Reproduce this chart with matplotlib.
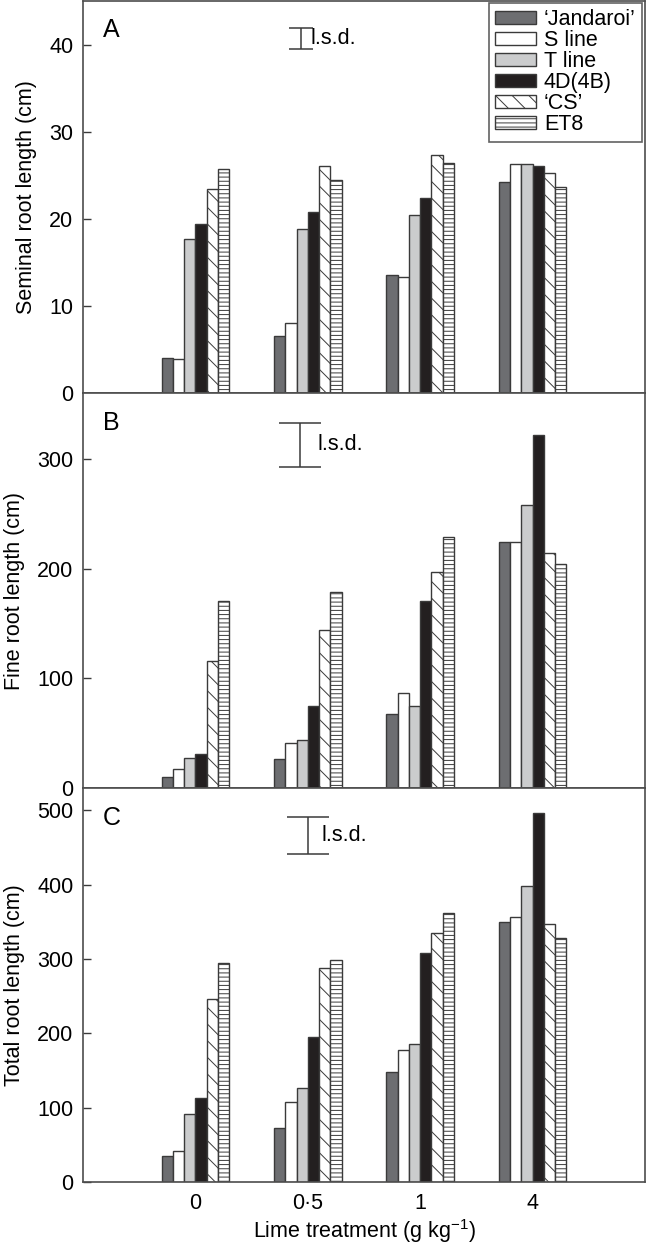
import matplotlib
matplotlib.use('Agg')
from matplotlib import pyplot as plt
from matplotlib.patches import Patch
import numpy as np

plt.rcParams['font.family'] = ['Liberation Sans', 'DejaVu Sans']
plt.rcParams['mathtext.fontset'] = 'custom'
plt.rcParams['mathtext.rm'] = 'Liberation Sans'
plt.rcParams['hatch.linewidth'] = 0.7

# lime treatments (g/kg) and lines
treatments = ['0', '0\u00b75', '1', '4']
lines = ['\u2018Jandaroi\u2019', 'S line', 'T line', '4D(4B)', '\u2018CS\u2019', 'ET8']

# seminal root length (cm), one list per line, over treatments
seminal = [
    [4.0, 6.5, 13.6, 24.2],
    [3.9, 8.0, 13.3, 26.3],
    [17.7, 18.8, 20.4, 26.3],
    [19.4, 20.8, 22.4, 26.1],
    [23.4, 26.1, 27.3, 25.2],
    [25.7, 24.4, 26.4, 23.6],
]
# fine root length (cm)
fine = [
    [10, 26, 67, 224],
    [17, 41, 87, 224],
    [27, 44, 75, 258],
    [31, 75, 170, 322],
    [116, 144, 197, 214],
    [170, 179, 229, 204],
]
# total root length (cm)
total = [
    [35, 73, 148, 350],
    [42, 108, 178, 356],
    [92, 127, 185, 398],
    [113, 195, 308, 496],
    [246, 288, 335, 347],
    [294, 299, 362, 328],
]
lsd = [2.4, 40, 50]

panels = [seminal, fine, total]
ylabels = ['Seminal root length (cm)', 'Fine root length (cm)', 'Total root length (cm)']
letters = ['A', 'B', 'C']
ylims = [45, 360, 530]
yticks = [np.arange(0, 41, 10), np.arange(0, 301, 100), np.arange(0, 501, 100)]

# lsd bar placement: x centre, y centre, cap size, text x
lsd_pos = [(0.94, 40.7, 8.5, 1.02), (0.93, 313, 15, 1.09), (1.0, 466, 15, 1.125)]

edge = '#3a3a3a'
fills = ['#6d6e71', 'white', '#cbcccd', '#231f20', 'white', 'white']
hatches = [None, None, None, None, '\\\\', '----']
fs = 15.5

W, H = 646, 1245
fig = plt.figure(figsize=(W / 100, H / 100), dpi=100)
tops = [1, 393, 788]
bots = [393, 788, 1182]
left, right = 83, 645

x = np.arange(len(treatments))
w = 0.1
axes = []
for k, data in enumerate(panels):
    ax = fig.add_axes([left / W, 1 - bots[k] / H, (right - left) / W, (bots[k] - tops[k]) / H])
    axes.append(ax)
    for i, vals in enumerate(data):
        ax.bar(x + (i - 2.5) * w, vals, w, color=fills[i], edgecolor=edge,
               hatch=hatches[i], linewidth=1.0, label=lines[i])
    ax.set_xlim(-1, 4)
    ax.set_ylim(0, ylims[k])
    ax.set_yticks(yticks[k])
    ax.tick_params(axis='y', direction='in', length=6, width=1, labelsize=fs, pad=7, color=edge)
    ax.tick_params(axis='x', length=0, labelsize=fs, pad=8)
    ax.set_xticks(x)
    if k < 2:
        ax.set_xticklabels([])
    else:
        ax.set_xticklabels(treatments)
    for s in ax.spines.values():
        s.set_color('#4d4d4d')
        s.set_linewidth(1.2)
    ax.set_ylabel(ylabels[k], fontsize=fs, labelpad=9)
    ax.text(-0.82, ylims[k] * 0.925, letters[k], fontsize=18, va='center', ha='left')

    lx, ly, cs, tx = lsd_pos[k]
    ax.errorbar(lx, ly, yerr=lsd[k] / 2, fmt='none', ecolor=edge, elinewidth=1.1,
                capsize=cs, capthick=1.1)
    ax.text(tx, ly, 'l.s.d.', fontsize=fs, va='center', ha='left')

axes[2].set_xlabel('Lime treatment (g kg$^{-1}$)', fontsize=fs, labelpad=2)

handles = [Patch(facecolor=fills[i], edgecolor=edge, hatch=hatches[i], linewidth=1.0, label=lines[i])
           for i in range(len(lines))]
leg = axes[0].legend(handles=handles, loc='upper right', bbox_to_anchor=(0.995, 0.995),
                     borderaxespad=0, fontsize=fs, frameon=True, fancybox=False,
                     handlelength=1.9, handleheight=0.55, handletextpad=0.35,
                     labelspacing=0.0, borderpad=0.3)
leg.get_frame().set_edgecolor('#3a3a3a')
leg.get_frame().set_linewidth(1.2)

fig.savefig('out.png', dpi=100)
